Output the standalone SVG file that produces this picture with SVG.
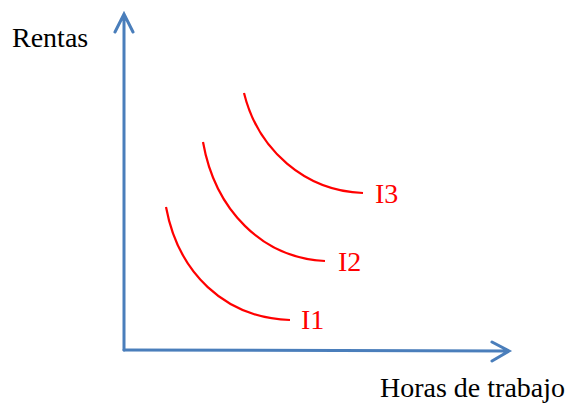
<svg xmlns="http://www.w3.org/2000/svg" width="575" height="403" viewBox="0 0 575 403">
<style>
.axis{fill:none;stroke:#4a7ebb;stroke-width:3;stroke-linecap:round;stroke-linejoin:miter}
.curve{fill:none;stroke:#ff0000;stroke-width:2.2}
.lbl{font-family:'Times New Roman','Liberation Serif','DejaVu Serif',serif;font-size:28px;fill:#000}
.clbl{font-family:'Times New Roman','Liberation Serif','DejaVu Serif',serif;font-size:28px;fill:#ff0000}
</style>
<rect width="575" height="403" fill="#fff"/>
<g id="connectors">
<path class="axis" d="M124,350 V14 M115,32 L124,14 L133,32"/>
<path class="axis" d="M124,350 L509,351 M492,342 L509,351 L492,361"/>
</g>
<g id="I1">
<path class="curve" d="M166,207 C178,272 224,318 290,320"/>
<text class="clbl" x="301" y="329">I1</text>
</g>
<g id="I2">
<path class="curve" d="M203,142 C215,210 262,258 325,261"/>
<text class="clbl" x="338" y="271">I2</text>
</g>
<g id="I3">
<path class="curve" d="M244,93 C258,150 305,191 363,193"/>
<text class="clbl" x="375" y="203">I3</text>
</g>
<g id="labels">
<text class="lbl" x="12" y="47">Rentas</text>
<text class="lbl" x="380" y="397">Horas de trabajo</text>
</g>
</svg>
